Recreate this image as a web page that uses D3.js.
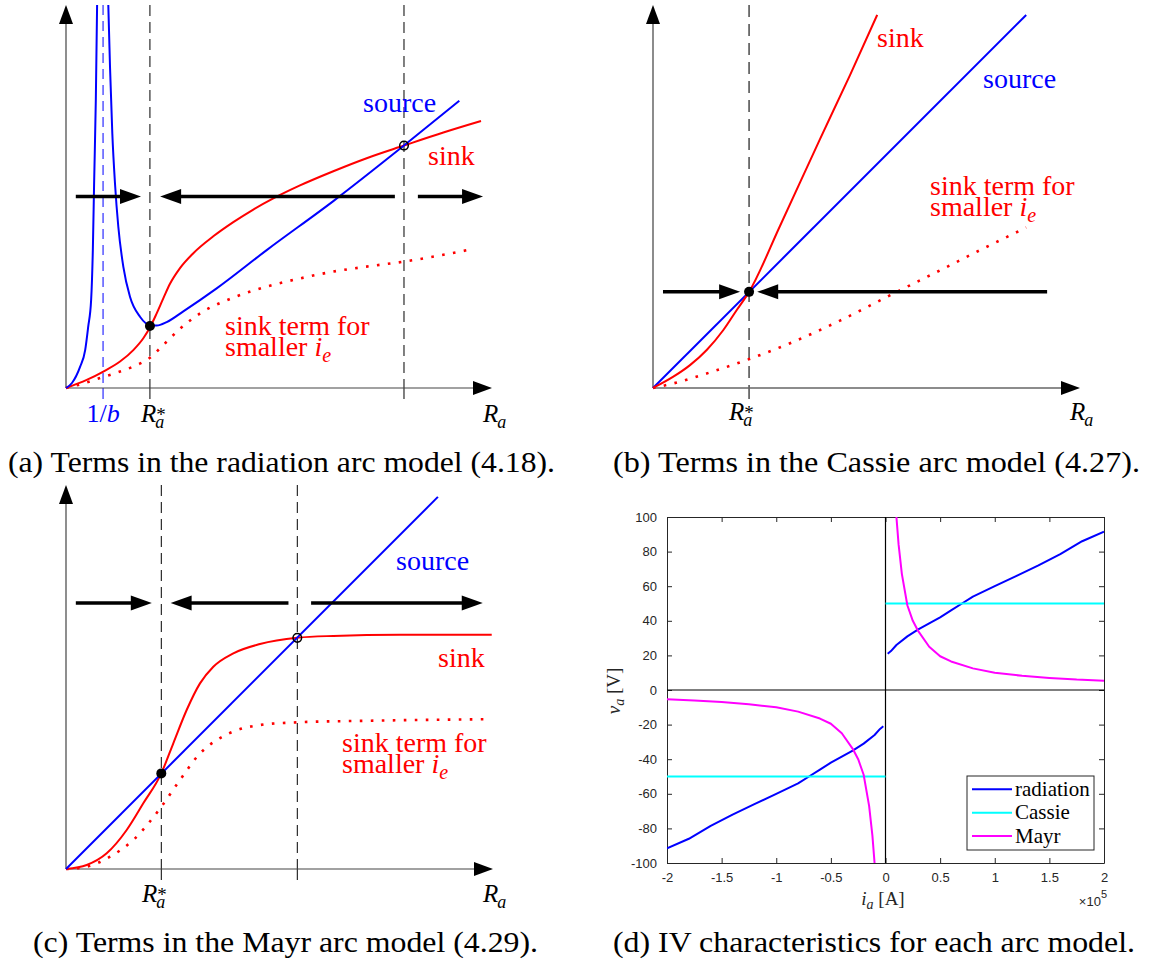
<!DOCTYPE html>
<html>
<head>
<meta charset="utf-8">
<title>Arc model terms and IV characteristics</title>
<script src="https://cdn.jsdelivr.net/npm/d3@7/dist/d3.min.js"></script>
<style>
  html, body { margin: 0; padding: 0; background: #fff; }
  svg { display: block; }
</style>
</head>
<body>
<svg id="fig" width="1152" height="963"></svg>
<script>
// ---------- (a) radiation arc model (normalised R_a on x, power terms on y) ----------
const radInvB = 0.87;
const radRStar = 1.97;
const radRHigh = 7.934;
const radSourceLeft = [[0,0],[0.14,0.13],[0.33,0.55],[0.45,0.99],[0.52,1.59],[0.59,2.3],[0.63,3.6],[0.66,5.35],[0.70,7.52],[0.73,10]];
const radSourceRight = [[0.993,10],[1.033,8.39],[1.087,6.65],[1.15,5.34],[1.228,4.21],[1.345,3.17],[1.502,2.38],[1.737,1.86],[1.972,1.64],[2.129,1.63],[2.364,1.72],[2.754,2.00],[3.537,2.60],[4.711,3.60],[6.275,4.88],[7.934,6.33],[9.233,7.50]];
const radSink = [[0,0],[0.486,0.21],[0.876,0.43],[1.268,0.69],[1.58,0.99],[1.815,1.30],[1.979,1.60],[2.129,1.95],[2.284,2.34],[2.441,2.72],[2.676,3.13],[2.989,3.52],[3.458,3.96],[3.927,4.33],[4.397,4.66],[4.866,4.95],[5.493,5.29],[6.275,5.66],[7.058,6.00],[7.934,6.33],[8.858,6.67],[9.742,6.97]];
const radSinkLow = [[0,0],[0.41,0.12],[0.80,0.26],[1.19,0.40],[1.58,0.56],[1.97,0.79],[2.30,1.14],[2.68,1.55],[3.15,1.95],[3.93,2.36],[4.72,2.65],[5.49,2.86],[6.28,3.04],[7.06,3.17],[7.93,3.30],[9.56,3.63]];
const radArrowLevel = 5;
const radArrows = [[0.23,1.76],[7.72,2.21],[8.26,9.79]];

// ---------- (b) Cassie arc model ----------
const casRStar = 2.25;
const casSource = [[0,0],[8.74,9.74]];
const casSink = [[0,0],[0.476,0.295],[0.867,0.597],[1.258,0.992],[1.648,1.514],[1.962,2.037],[2.25,2.51],[2.974,4.23],[3.911,6.50],[4.614,8.17],[5.25,9.74]];
const casSinkLow = [[0,0],[0.476,0.12],[1.258,0.38],[2.24,0.75],[3.21,1.17],[4.38,1.76],[5.71,2.51],[6.72,3.07],[7.50,3.51],[8.74,4.19]];
const casArrowLevel = 2.51;
const casArrows = [[0.234,2.04],[9.23,2.44]];

// ---------- (c) Mayr arc model ----------
const mayRStar = 2.232;
const mayRHigh = 5.417;
const maySource = [[0,0],[8.71,9.69]];
const maySink = [[0,0],[0.485,0.104],[0.953,0.409],[1.421,1.016],[1.810,1.711],[2.232,2.492],[2.513,3.273],[2.826,4.14],[3.138,4.834],[3.45,5.268],[3.919,5.617],[4.543,5.859],[5.417,6.023],[6.26,6.07],[7.82,6.10],[9.97,6.10]];
const maySinkLow = [[0,0],[0.485,0.06],[1.03,0.32],[1.58,0.76],[2.232,1.62],[2.67,2.32],[3.138,3.01],[3.53,3.36],[3.92,3.58],[4.54,3.75],[5.417,3.82],[7.04,3.86],[9.89,3.90]];
const mayArrowLevel = 6.93;
const mayArrows = [[0.23,2.01],[5.21,2.45],[5.74,9.76]];

// ---------- (d) IV characteristics (current in 1e5 A, voltage in V) ----------
const ivTicksX = [-2,-1.5,-1,-0.5,0,0.5,1,1.5,2];
const ivTicksY = [-100,-80,-60,-40,-20,0,20,40,60,80,100];
const radI = [0.02,0.05,0.1,0.2,0.3,0.4,0.5,0.6,0.7,0.8,1.0,1.2,1.4,1.6,1.8,2.0];
const radV = [21,22.5,26,31,35,38.5,42,46,50,54,60,66,72,78.5,86,91.5];
const cassieI = [0,2];
const cassieV = [50,50];
const mayrI = [0.1,0.12,0.15,0.2,0.25,0.3,0.4,0.5,0.6,0.8,1.0,1.25,1.5,1.75,2.0];
const mayrV = [100,84,67,49,40,34,25,19.5,16.5,12.5,10,8.2,7,6,5.4];
const ivLegend = ["radiation","Cassie","Mayr"];

// ---------- common styling ----------
const SERIF = "Liberation Serif, Times New Roman, Times, serif";
const SANS = "Liberation Sans, Arial, Helvetica, sans-serif";
const RED = "#ff0000", BLUE = "#0000ff", CYAN = "#00ffff", MAGENTA = "#ff00ff";
const svg = d3.select("#fig");
svg.append("rect").attr("width",1152).attr("height",963).attr("fill","#fff");

function triangle(g, tip, dir, len, half, fill) {
  const [tx,ty] = tip, [dx,dy] = dir;
  const bx = tx - dx*len, by = ty - dy*len;
  const px = -dy*half, py = dx*half;
  g.append("path").attr("d",`M${tx},${ty}L${bx+px},${by+py}L${bx-px},${by-py}Z`).attr("fill",fill);
}

function schematic(cfg) {
  const g = svg.append("g");
  const x = d3.scaleLinear().domain([0,10]).range(cfg.xRange);
  const y = d3.scaleLinear().domain([0,10]).range(cfg.yRange);
  const line = d3.line().x(d => x(d[0])).y(d => y(d[1])).curve(d3.curveMonotoneX);

  // dashed guides through the equilibria, with a small tick under the axis
  cfg.guides.forEach(gd => {
    g.append("line").attr("x1",x(gd.at)).attr("x2",x(gd.at)).attr("y1",y(10)).attr("y2",y(0))
      .attr("stroke",gd.color).attr("stroke-width",gd.width).attr("stroke-dasharray",gd.dash);
    g.append("line").attr("x1",x(gd.at)).attr("x2",x(gd.at)).attr("y1",y(0)).attr("y2",y(0)+11)
      .attr("stroke",gd.color).attr("stroke-width",gd.width);
  });

  // axes with arrow heads
  g.append("line").attr("x1",x(0)).attr("y1",y(0)).attr("x2",x(0)).attr("y2",y(10)+15)
    .attr("stroke",cfg.axisColor).attr("stroke-width",cfg.axisWidth);
  g.append("line").attr("x1",x(0)).attr("y1",y(0)).attr("x2",x(10)-15).attr("y2",y(0))
    .attr("stroke",cfg.axisColor).attr("stroke-width",cfg.axisWidth);
  triangle(g,[x(0),y(10)],[0,-1],19,7,"#000");
  triangle(g,[x(10),y(0)],[1,0],19,7,"#000");

  // source / sink curves
  cfg.curves.forEach(c => {
    g.append("path").datum(c.data).attr("d",line).attr("fill","none")
      .attr("stroke",c.color).attr("stroke-width",c.width)
      .attr("stroke-dasharray",c.dash || null)
      .attr("stroke-linecap","butt").attr("stroke-linejoin","round");
  });

  // direction of R_a evolution
  cfg.arrows.forEach(([from,to]) => {
    const yy = y(cfg.arrowLevel), x0 = x(from), x1 = x(to);
    const dir = Math.sign(x1 - x0);
    g.append("line").attr("x1",x0).attr("x2",x1 - dir*18).attr("y1",yy).attr("y2",yy)
      .attr("stroke","#000").attr("stroke-width",3.5);
    triangle(g,[x1,yy],[dir,0],21,7.5,"#000");
  });

  // equilibrium points: stable (filled) and unstable (open)
  cfg.points.forEach(p => {
    g.append("circle").attr("cx",x(p.at[0])).attr("cy",y(p.at[1]))
      .attr("r",p.filled ? 5 : 4.3)
      .attr("fill",p.filled ? "#000" : "none")
      .attr("stroke","#000").attr("stroke-width",p.filled ? 0 : 1.5);
  });
  return {x, y};
}

function plainText(x0, y0, str, color, size) {
  return svg.append("text").attr("x",x0).attr("y",y0)
    .attr("font-family",SERIF).attr("font-size",size || 28).attr("fill",color).text(str);
}
function sinkLowLabel(x0, y0) {
  plainText(x0,y0,"sink term for",RED);
  const t = svg.append("text").attr("x",x0).attr("y",y0+21)
    .attr("font-family",SERIF).attr("font-size",28).attr("fill",RED);
  t.append("tspan").text("smaller ");
  t.append("tspan").attr("font-style","italic").text("i");
  t.append("tspan").attr("font-style","italic").attr("font-size",20).attr("dy",6).text("e");
}
// R_a or R_a^* as one text element (subscript and stacked superscript)
function rLabel(x0, y0, star) {
  const t = svg.append("text").attr("x",x0).attr("y",y0)
    .attr("font-family",SERIF).attr("font-size",25).attr("fill","#000");
  t.append("tspan").attr("font-style","italic").text("R");
  const sub = t.append("tspan").attr("font-style","italic").attr("font-size",18).attr("dx",-1).attr("dy",6).text("a");
  if (star) {
    const w = sub.node().getComputedTextLength();
    t.append("tspan").attr("font-size",19).attr("dx",-w + 1).attr("dy",-7).text("*");
  }
}
function caption(x0, y0, len, str) {
  svg.append("text").attr("x",x0).attr("y",y0).attr("font-family",SERIF).attr("font-size",30)
    .attr("fill","#000").attr("textLength",len).attr("lengthAdjust","spacingAndGlyphs").text(str);
}

const blackDash = {color:"#000", width:1, dash:"11,6"};

// ---------- panel (a) ----------
const pa = schematic({
  xRange:[66,492], yRange:[388,5], axisColor:"#444", axisWidth:1.2,
  guides:[
    {at:radInvB, color:BLUE, width:1, dash:"10,6"},
    Object.assign({at:radRStar}, blackDash),
    Object.assign({at:radRHigh}, blackDash)
  ],
  curves:[
    {data:radSinkLow, color:RED, width:2.6, dash:"2.6,8.4"},
    {data:radSink, color:RED, width:2},
    {data:radSourceLeft, color:BLUE, width:2},
    {data:radSourceRight, color:BLUE, width:2}
  ],
  arrowLevel:radArrowLevel, arrows:radArrows,
  points:[{at:[radRStar,1.62], filled:true},{at:[radRHigh,6.33], filled:false}]
});
plainText(363,112,"source",BLUE);
plainText(428,165,"sink",RED);
sinkLowLabel(225,335);
{
  const t = svg.append("text").attr("x",pa.x(radInvB)).attr("y",422).attr("text-anchor","middle")
    .attr("font-family",SERIF).attr("font-size",26).attr("fill",BLUE);
  t.append("tspan").text("1/");
  t.append("tspan").attr("font-style","italic").text("b");
}
rLabel(141,422,true);
rLabel(483,422,false);
caption(8,472,547,"(a) Terms in the radiation arc model (4.18).");

// ---------- panel (b) ----------
const pb = schematic({
  xRange:[653,1080], yRange:[388,5], axisColor:"#666", axisWidth:1.5,
  guides:[{at:casRStar, color:"#555", width:1.6, dash:"12,7"}],
  curves:[
    {data:casSinkLow, color:RED, width:2.6, dash:"2.6,8.4"},
    {data:casSource, color:BLUE, width:2},
    {data:casSink, color:RED, width:2}
  ],
  arrowLevel:casArrowLevel, arrows:casArrows,
  points:[{at:[casRStar,casArrowLevel], filled:true}]
});
plainText(877,47,"sink",RED);
plainText(983,88,"source",BLUE);
sinkLowLabel(930,195);
rLabel(729,420,true);
rLabel(1070,420,false);
caption(613,472,527,"(b) Terms in the Cassie arc model (4.27).");

// ---------- panel (c) ----------
const pc = schematic({
  xRange:[66,493], yRange:[869,485], axisColor:"#444", axisWidth:1.2,
  guides:[
    Object.assign({at:mayRStar}, blackDash),
    Object.assign({at:mayRHigh}, blackDash)
  ],
  curves:[
    {data:maySinkLow, color:RED, width:2.6, dash:"2.6,8.4"},
    {data:maySink, color:RED, width:2},
    {data:maySource, color:BLUE, width:2}
  ],
  arrowLevel:mayArrowLevel, arrows:mayArrows,
  points:[{at:[mayRStar,2.49], filled:true},{at:[mayRHigh,6.02], filled:false}]
});
plainText(396,570,"source",BLUE);
plainText(438,667,"sink",RED);
sinkLowLabel(342,752);
rLabel(142,902,true);
rLabel(483,902,false);
caption(33,952,505,"(c) Terms in the Mayr arc model (4.29).");

// ---------- panel (d) ----------
const xD = d3.scaleLinear().domain([-2,2]).range([667,1104]);
const yD = d3.scaleLinear().domain([-100,100]).range([863,517]);
const gd = svg.append("g");
gd.append("clipPath").attr("id","ivclip").append("rect")
  .attr("x",xD(-2)).attr("y",yD(100)).attr("width",xD(2)-xD(-2)).attr("height",yD(-100)-yD(100));

const fmt = d => String(d);
function styleAxis(sel) {
  sel.attr("color","#262626").attr("font-family",SANS).attr("font-size",13);
  sel.selectAll(".domain").attr("stroke-width",1);
}
gd.append("g").attr("transform",`translate(0,${yD(-100)})`)
  .call(d3.axisBottom(xD).tickValues(ivTicksX).tickSize(-5).tickSizeOuter(0).tickPadding(10).tickFormat(fmt)).call(styleAxis);
gd.append("g").attr("transform",`translate(0,${yD(100)})`)
  .call(d3.axisTop(xD).tickValues(ivTicksX).tickSize(-5).tickSizeOuter(0).tickFormat("")).call(styleAxis);
gd.append("g").attr("transform",`translate(${xD(-2)},0)`)
  .call(d3.axisLeft(yD).tickValues(ivTicksY).tickSize(-5).tickSizeOuter(0).tickPadding(10).tickFormat(fmt)).call(styleAxis);
gd.append("g").attr("transform",`translate(${xD(2)},0)`)
  .call(d3.axisRight(yD).tickValues(ivTicksY).tickSize(-5).tickSizeOuter(0).tickFormat("")).call(styleAxis);

// zero lines
gd.append("line").attr("x1",xD(-2)).attr("x2",xD(2)).attr("y1",yD(0)).attr("y2",yD(0)).attr("stroke","#000").attr("stroke-width",1.2);
gd.append("line").attr("x1",xD(0)).attr("x2",xD(0)).attr("y1",yD(-100)).attr("y2",yD(100)).attr("stroke","#000").attr("stroke-width",1.2);

const ivLine = d3.line().x(d => xD(d[0])).y(d => yD(d[1]));
const plotArea = gd.append("g").attr("clip-path","url(#ivclip)");
function branchPair(I, V) {
  const pos = I.map((v,k) => [v, V[k]]);
  const neg = pos.map(([i,v]) => [-i,-v]).reverse();
  return [neg, pos];
}
const ivSeries = [
  {name:"radiation", color:BLUE, branches:branchPair(radI, radV)},
  {name:"Cassie", color:CYAN, branches:branchPair(cassieI, cassieV)},
  {name:"Mayr", color:MAGENTA, branches:branchPair(mayrI, mayrV)}
];
ivSeries.forEach(s => s.branches.forEach(b => {
  plotArea.append("path").datum(b).attr("d",ivLine).attr("fill","none")
    .attr("stroke",s.color).attr("stroke-width",2).attr("stroke-linejoin","round");
}));

// legend
const lg = gd.append("g");
lg.append("rect").attr("x",967).attr("y",776).attr("width",127).attr("height",74)
  .attr("fill","#fff").attr("stroke","#262626").attr("stroke-width",1);
ivSeries.forEach((s,k) => {
  const yy = 789.3 + k*23.4;
  lg.append("line").attr("x1",972).attr("x2",1012).attr("y1",yy).attr("y2",yy)
    .attr("stroke",s.color).attr("stroke-width",2);
  lg.append("text").attr("x",1015).attr("y",yy+6.5).attr("font-family",SERIF).attr("font-size",21)
    .attr("fill","#000").text(ivLegend[k]);
});

// axis labels
{
  const t = gd.append("text").attr("x",883).attr("y",905).attr("text-anchor","middle")
    .attr("font-family",SERIF).attr("font-size",19).attr("fill","#262626");
  t.append("tspan").attr("font-style","italic").text("i");
  t.append("tspan").attr("font-style","italic").attr("font-size",14).attr("dy",4).text("a");
  t.append("tspan").attr("dy",-4).text(" [A]");

  const v = gd.append("text").attr("transform","translate(620,691) rotate(-90)").attr("text-anchor","middle")
    .attr("font-family",SERIF).attr("font-size",19).attr("fill","#262626");
  v.append("tspan").attr("font-style","italic").text("v");
  v.append("tspan").attr("font-style","italic").attr("font-size",14).attr("dy",4).text("a");
  v.append("tspan").attr("dy",-4).text(" [V]");

  const e = gd.append("text").attr("x",1107).attr("y",906).attr("text-anchor","end")
    .attr("font-family",SANS).attr("font-size",13).attr("fill","#262626");
  e.append("tspan").text("\u00d710");
  e.append("tspan").attr("font-size",11).attr("dy",-8).text("5");
}
caption(613,952,522,"(d) IV characteristics for each arc model.");
</script>
</body>
</html>
